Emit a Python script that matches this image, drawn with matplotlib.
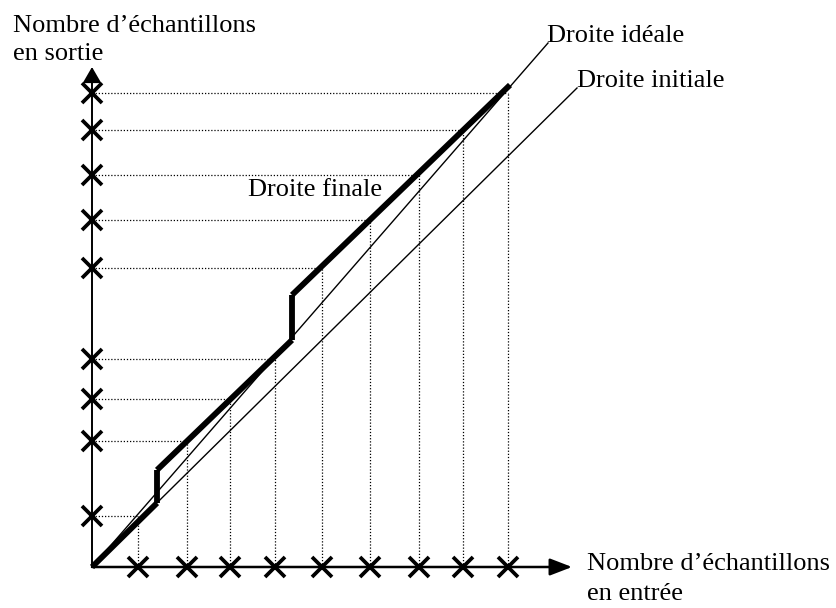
import numpy as np
import matplotlib.pyplot as plt

plt.rcParams['font.family'] = ['Liberation Serif', 'DejaVu Serif']

# --- sample positions (input on x, output on y) ---
x_in = [46, 95, 138, 183, 230, 278, 327, 371, 416]
y_out = [51, 126, 168, 208, 299, 347, 392, 437, 474]

# --- straight lines from the origin ---
ideal_x = [0, 456]
ideal_y = [0, 524]
init_x = [0, 485]
init_y = [0, 479]

# --- final line, shifted upward in two steps ---
final_x = [0, 65, 65, 200, 200, 418]
final_y = [0, 64, 97, 227, 272, 482]

fig = plt.figure(figsize=(8.37, 6.08), dpi=100)
ax = fig.add_axes([0, 0, 1, 1])
ax.set_xlim(-92, 745)
ax.set_ylim(-41, 567)
ax.axis('off')

dots = (0, (1, 1.5))
ax.vlines(x_in, 0, y_out, colors='k', linestyles=dots, lw=0.9, zorder=1)
ax.hlines(y_out, 0, x_in, colors='k', linestyles=dots, lw=0.9, zorder=1)

ax.plot(ideal_x, ideal_y, color='k', lw=1.0, zorder=2)
ax.plot(init_x, init_y, color='k', lw=1.0, zorder=2)
# each piece of the final line drawn on its own, butt ends
for i in range(len(final_x) - 1):
    ax.plot(final_x[i:i + 2], final_y[i:i + 2], color='k', lw=4.2,
            solid_capstyle='butt', zorder=3)

# axes with arrow heads
ax.annotate('', xy=(0, 500), xytext=(0, 0),
            arrowprops=dict(arrowstyle='-|>,head_length=0.95,head_width=0.55',
                            lw=1.4, color='k', shrinkA=0, shrinkB=0), zorder=4)
ax.annotate('', xy=(480, 0), xytext=(0, 0),
            arrowprops=dict(arrowstyle='-|>,head_length=1.35,head_width=0.52',
                            lw=1.8, color='k', shrinkA=0, shrinkB=0), zorder=4)

ax.plot(x_in, np.zeros(len(x_in)), 'x', color='k', ms=14, mew=2.7, zorder=5)
ax.plot(np.zeros(len(y_out)), y_out, 'x', color='k', ms=14, mew=2.7, zorder=5)

fs = 19
ax.text(-79, 535, 'Nombre d\u2019échantillons', fontsize=fs, va='baseline')
ax.text(-79, 507, 'en sortie', fontsize=fs, va='baseline')
ax.text(495, -3, 'Nombre d\u2019échantillons', fontsize=fs, va='baseline')
ax.text(495, -33, 'en entrée', fontsize=fs, va='baseline')
ax.text(455, 525, 'Droite idéale', fontsize=fs, va='baseline')
ax.text(485, 480, 'Droite initiale', fontsize=fs, va='baseline')
ax.text(156, 371, 'Droite finale', fontsize=fs, va='baseline')

fig.savefig('out.png', dpi=100)
